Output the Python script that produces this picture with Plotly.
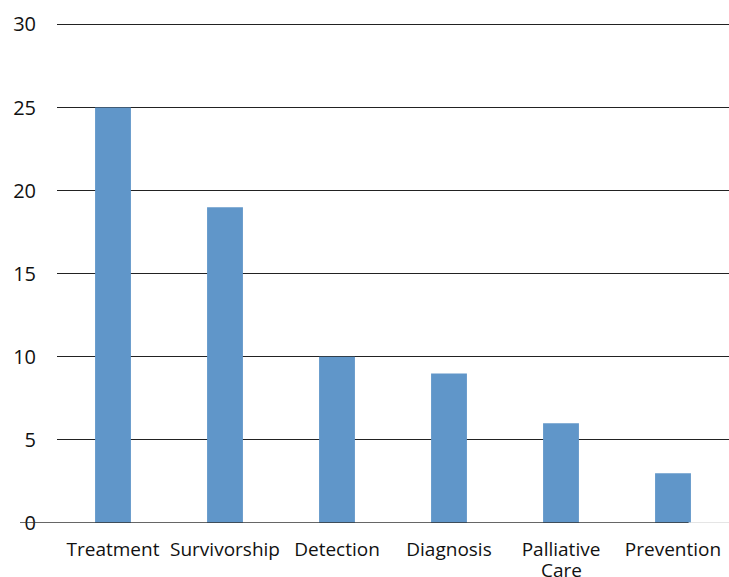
import plotly.graph_objects as go

categories = ["Treatment", "Survivorship", "Detection", "Diagnosis", "Palliative Care", "Prevention"]
values = [25, 19, 10, 9, 6, 3]
y_ticks = [0, 5, 10, 15, 20, 25, 30]
# first line of each category label; the wrapped second line is placed beneath it
label_line1 = ["Treatment", "Survivorship", "Detection", "Diagnosis", "Palliative", "Prevention"]
label_line2 = ["", "", "", "", "Care", ""]

fig = go.Figure(go.Bar(x=categories, y=values, marker=dict(color="#6096C9", line=dict(width=0))))

fig.update_layout(
    width=729, height=577,
    margin=dict(l=57, r=0, t=21.5, b=54, autoexpand=False),
    plot_bgcolor="white", paper_bgcolor="white",
    bargap=0.68,
    showlegend=False,
    font=dict(family="Open Sans", size=19, color="#111111"),
)
fig.update_yaxes(range=[0, 30.15], tickvals=y_ticks, showgrid=True, gridcolor="#222222", gridwidth=1,
                 zeroline=False, showline=False, ticks="", ticklabelstandoff=20, automargin=False,
                 tickfont=dict(size=20, color="#111111"))
fig.update_xaxes(showgrid=False, showline=False, ticks="", ticklabelstandoff=13, automargin=False,
                 tickvals=categories, ticktext=label_line1,
                 tickfont=dict(size=19, color="#111111"))

for cat, txt in zip(categories, label_line2):
    if txt:
        fig.add_annotation(x=cat, y=0, xref="x", yref="y", text=txt, showarrow=False,
                           yanchor="middle", yshift=-47, font=dict(size=19, color="#111111"))

# zero baseline styling
fig.add_shape(type="line", xref="paper", yref="y", x0=-0.055, x1=0.94, y0=0, y1=0,
              line=dict(color="#333333", width=1.5), layer="above")
fig.add_shape(type="line", xref="paper", yref="y", x0=0.94, x1=1.0, y0=0, y1=0,
              line=dict(color="#dddddd", width=1.5), layer="above")

fig.write_html("out.html")
